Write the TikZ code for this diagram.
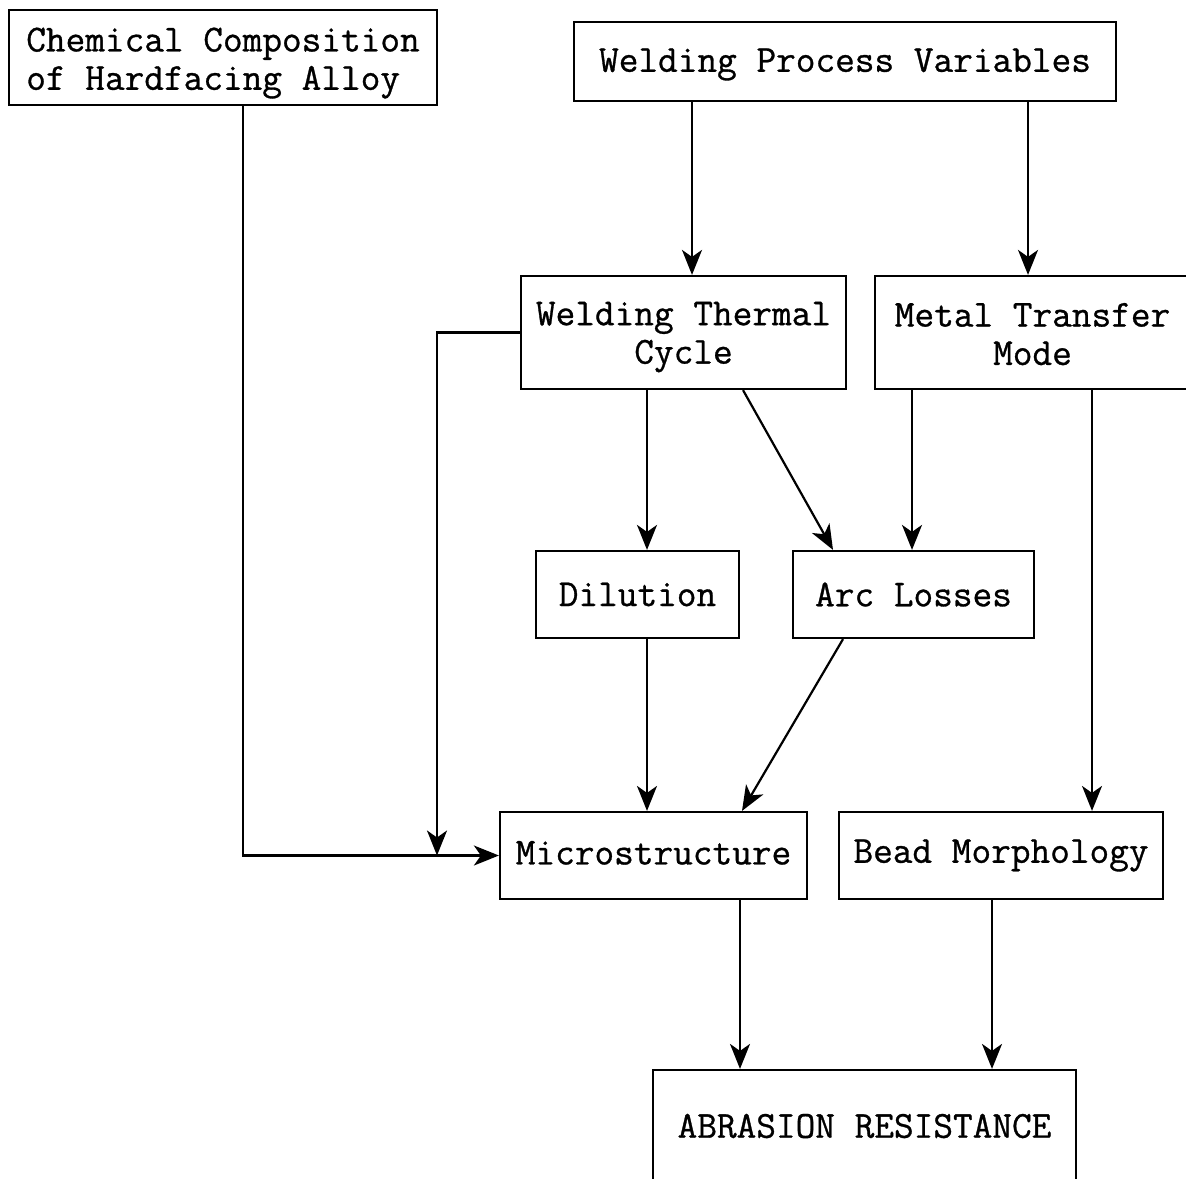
\documentclass[tikz,border=0pt]{standalone}
\usepackage{fontspec}
\newfontfamily\diagfont{Latin Modern Mono}[FakeBold=0.8]
\usetikzlibrary{arrows.meta}
\begin{document}
\begin{tikzpicture}[x=0.5pt,y=-0.5pt,
  box/.style={draw, line width=1.1pt, inner sep=0pt, font=\diagfont\fontsize{19.1}{19.2}\selectfont, align=center},
  txt/.style={inner sep=0pt, font=\diagfont\fontsize{19.1}{19.2}\selectfont, align=center},
  arr/.style={line width=1.1pt, -{Stealth[length=12.5pt,width=10pt,inset=3.5pt]}}]
\clip (0,0) rectangle (1186,1178);
\fill[white] (0,0) rectangle (1186,1178);
% boxes
\node[box, minimum width=428*0.5pt, minimum height=95*0.5pt,
  label={[txt, align=left, yshift=-2.8pt]center:{Chemical Composition\\of Hardfacing Alloy}}] (chem) at (223,57.5) {};
\node[box, minimum width=542*0.5pt, minimum height=79*0.5pt,
  label={[txt, yshift=-1.5pt]center:{Welding Process Variables}}] (wpv) at (845,61.5) {};
\node[box, minimum width=325*0.5pt, minimum height=113*0.5pt,
  label={[txt, yshift=-2.3pt]center:{Welding Thermal\\Cycle}}] (wtc) at (683.5,332.5) {};
\node[box, minimum width=315*0.5pt, minimum height=113*0.5pt,
  label={[txt, yshift=-0.8pt]center:{Metal Transfer\\Mode}}] (mtm) at (1032.5,332.5) {};
\node[box, minimum width=203*0.5pt, minimum height=87*0.5pt] (dil) at (637.5,594.5) {Dilution};
\node[box, minimum width=241*0.5pt, minimum height=87*0.5pt] (arc) at (913.5,594.5) {Arc Losses};
\node[box, minimum width=307*0.5pt, minimum height=87*0.5pt,
  label={[txt, yshift=1.3pt]center:{Microstructure}}] (micro) at (653.5,855.5) {};
\node[box, minimum width=324*0.5pt, minimum height=87*0.5pt] (bead) at (1001,855.5) {Bead Morphology};
\node[box, minimum width=423*0.5pt, minimum height=112*0.5pt] (abr) at (864.5,1126) {ABRASION RESISTANCE};
% helper x positions
\coordinate (x243) at (243,0);
\coordinate (x437) at (437,0);
\coordinate (x647) at (647,0);
\coordinate (x692) at (692,0);
\coordinate (x1028) at (1028,0);
\coordinate (x743) at (743,0);
\coordinate (x833) at (833,0);
\coordinate (x843) at (843,0);
\coordinate (x742) at (742,0);
\coordinate (x912) at (912,0);
\coordinate (x1092) at (1092,0);
\coordinate (x740) at (740,0);
\coordinate (x992) at (992,0);
\coordinate (junc) at (x437 |- micro.west);
% connectors
\draw[arr] (x692 |- wpv.south) -- (x692 |- wtc.north);
\draw[arr] (x1028 |- wpv.south) -- (x1028 |- mtm.north);
\draw[arr] (x243 |- chem.south) |- (micro.west);
\draw[arr] (wtc.west) -| (junc);
\draw[arr] (x647 |- wtc.south) -- (x647 |- dil.north);
\draw[arr] (x743 |- wtc.south) -- (x833 |- arc.north);
\draw[arr] (x912 |- mtm.south) -- (x912 |- arc.north);
\draw[arr] (x1092 |- mtm.south) -- (x1092 |- bead.north);
\draw[arr] (x647 |- dil.south) -- (x647 |- micro.north);
\draw[arr] (x843 |- arc.south) -- (x742 |- micro.north);
\draw[arr] (x740 |- micro.south) -- (x740 |- abr.north);
\draw[arr] (x992 |- bead.south) -- (x992 |- abr.north);
\end{tikzpicture}
\end{document}
